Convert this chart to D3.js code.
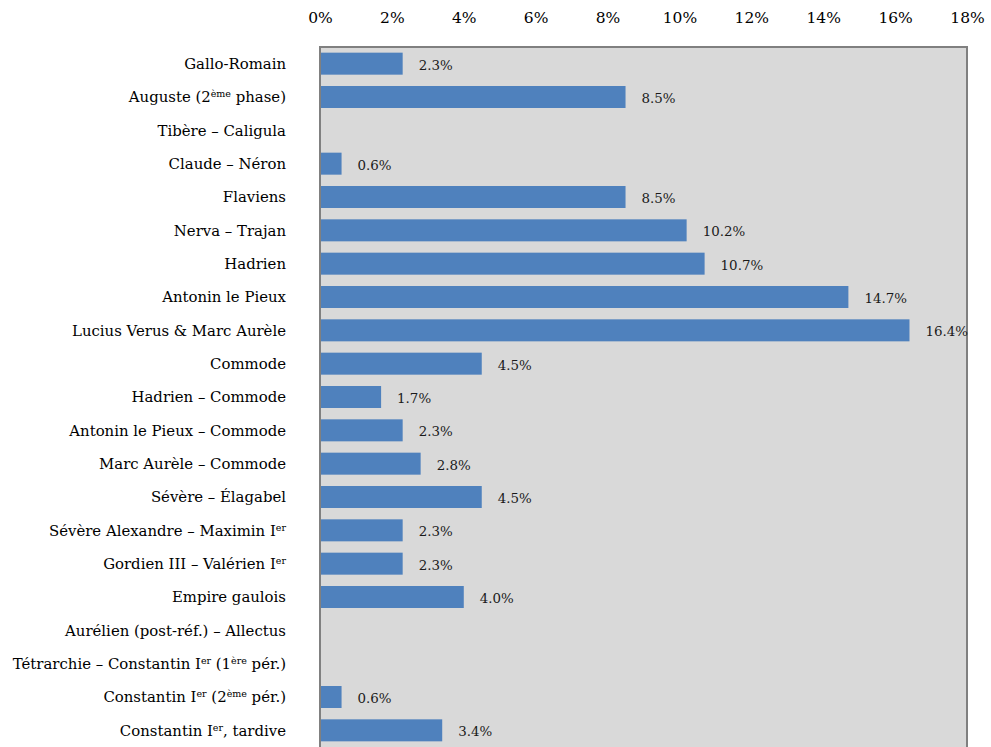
<!DOCTYPE html>
<html><head><meta charset="utf-8">
<script src="https://cdn.jsdelivr.net/npm/d3@7"></script>
<style>body{margin:0;background:#fff}svg{display:block}</style>
</head><body>
<script>
const categories = [
 "Gallo-Romain","Auguste (2^ème^ phase)","Tibère – Caligula","Claude – Néron","Flaviens",
 "Nerva – Trajan","Hadrien","Antonin le Pieux","Lucius Verus & Marc Aurèle","Commode",
 "Hadrien – Commode","Antonin le Pieux – Commode","Marc Aurèle – Commode","Sévère – Élagabel",
 "Sévère Alexandre – Maximin I^er^","Gordien III – Valérien I^er^","Empire gaulois",
 "Aurélien (post-réf.) – Allectus","Tétrarchie – Constantin I^er^ (1^ère^ pér.)",
 "Constantin I^er^ (2^ème^ pér.)","Constantin I^er^, tardive"
];
const values = [2.3,8.5,null,0.6,8.5,10.2,10.7,14.7,16.4,4.5,1.7,2.3,2.8,4.5,2.3,2.3,4.0,null,null,0.6,3.4];
const ticks = [0,2,4,6,8,10,12,14,16,18];

const W=991,H=747;
const svg=d3.select("body").append("svg").attr("width",W).attr("height",H);
const font="'DejaVu Serif', 'Liberation Serif', serif";
const x=d3.scaleLinear().domain([0,18]).range([320,967]);
const y=d3.scaleBand().domain(d3.range(categories.length)).range([47,747]).paddingInner(0.34).paddingOuter(0.17);

svg.append("rect").attr("x",x(0)).attr("y",47).attr("width",x(18)-x(0)).attr("height",701)
  .attr("fill","#d9d9d9").attr("stroke","#808080").attr("stroke-width",2);

const ax=svg.append("g").attr("transform","translate(0,23)")
  .call(d3.axisTop(x).tickValues(ticks).tickFormat(d=>d+"%").tickSize(0).tickPadding(0));
ax.select(".domain").remove();
ax.selectAll("text").attr("font-family",font).attr("font-size",15.5).attr("fill","#000");

const data=categories.map((c,i)=>({c,v:values[i],i}));
svg.append("g").selectAll("rect").data(data.filter(d=>d.v!=null)).join("rect")
  .attr("x",x(0)+1).attr("y",d=>y(d.i)).attr("height",y.bandwidth())
  .attr("width",d=>x(d.v)-x(0)-1).attr("fill","#4f81bd");

svg.append("g").selectAll("text").data(data.filter(d=>d.v!=null)).join("text")
  .attr("x",d=>x(d.v)+16).attr("y",d=>y(d.i)+y.bandwidth()/2+1).attr("dy","0.38em")
  .attr("font-family",font).attr("font-size",13.4).attr("fill","#1a1a1a")
  .text(d=>d.v.toFixed(1)+"%");

const lab=svg.append("g").selectAll("text").data(data).join("text")
  .attr("x",286).attr("y",d=>y(d.i)+y.bandwidth()/2).attr("dy","0.36em")
  .attr("text-anchor","end").attr("font-family",font).attr("font-size",14.9).attr("fill","#000");
lab.each(function(d){
  const t=d3.select(this);
  let pending=0;
  d.c.split("^").forEach((s,k)=>{
    if(!s) return;
    if(k%2===1){ t.append("tspan").attr("font-size",9.5).attr("dy",-5).text(s); pending=5; }
    else { const sp=t.append("tspan").text(s); if(pending){sp.attr("dy",pending); pending=0;} }
  });
});
</script>
</body></html>
